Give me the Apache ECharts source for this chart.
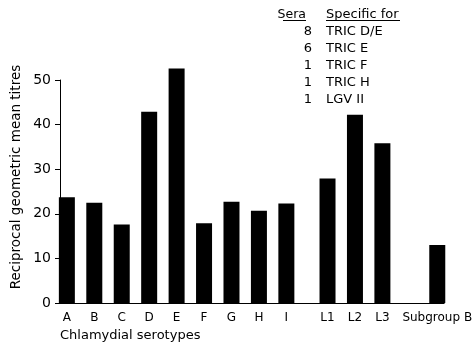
<!DOCTYPE html>
<html>
<head>
<meta charset="utf-8">
<script src="https://cdn.jsdelivr.net/npm/echarts@6/dist/echarts.min.js"></script>
<style>
html,body{margin:0;padding:0;background:#fff;}
#chart{width:475px;height:346px;}
</style>
</head>
<body>
<div id="chart"></div>
<script>
// ---- data ----
const serotypes = ['A','B','C','D','E','F','G','H','I','L1','L2','L3','Subgroup B'];
const titres = [23.7, 22.5, 17.6, 42.9, 52.6, 17.9, 22.7, 20.7, 22.3, 27.9, 42.2, 35.8, 13.0];
// blank half-slots after each serotype on the category axis (figure spacing)
const spacersAfter = [1,1,1,1,1,1,1,1,2,1,1,3,0];
const yTicks = [0, 10, 20, 30, 40, 50];
const seraCounts = ['8','6','1','1','1'];
const specificFor = ['TRIC D/E','TRIC E','TRIC F','TRIC H','LGV II'];
const yTitle = 'Reciprocal geometric mean titres';
const xTitle = 'Chlamydial serotypes';
const legendHeads = ['Sera', 'Specific for'];

// ---- build axis ----
const axisCats = [];
const barData = [];
serotypes.forEach((s, i) => {
  axisCats.push(s);
  barData.push(titres[i]);
  for (let k = 0; k < spacersAfter[i]; k++) {
    axisCats.push('\u200b' + i + '_' + k);
    barData.push('-');
  }
});

const FONT = '"DejaVu Sans"';
const chart = echarts.init(document.getElementById('chart'), null, {renderer: 'canvas'});

const graphics = [];
// axis titles
graphics.push({type:'text', x:60, y:336, style:{text:xTitle, font:'13px ' + FONT, fill:'#000', align:'left', verticalAlign:'middle'}});
graphics.push({type:'text', x:16, y:177, rotation:Math.PI/2, style:{text:yTitle, font:'13.5px ' + FONT, fill:'#000', align:'center', verticalAlign:'middle'}});
// legend headings
graphics.push({type:'text', x:306, y:15, style:{text:legendHeads[0], font:'12.5px ' + FONT, fill:'#000', align:'right', verticalAlign:'middle'}});
graphics.push({type:'text', x:326, y:15, style:{text:legendHeads[1], font:'13px ' + FONT, fill:'#000', align:'left', verticalAlign:'middle'}});
graphics.push({type:'line', shape:{x1:283, y1:20.5, x2:306, y2:20.5}, style:{stroke:'#000', lineWidth:1}});
graphics.push({type:'line', shape:{x1:326, y1:20.5, x2:400, y2:20.5}, style:{stroke:'#000', lineWidth:1}});
seraCounts.forEach((c, i) => {
  const y = 32 + i * 17;
  graphics.push({type:'text', x:312, y:y, style:{text:c, font:'13px ' + FONT, fill:'#000', align:'right', verticalAlign:'middle'}});
  graphics.push({type:'text', x:326, y:y, style:{text:specificFor[i], font:'13px ' + FONT, fill:'#000', align:'left', verticalAlign:'middle'}});
});

chart.setOption({
  animation: false,
  backgroundColor: '#fff',
  grid: {left: 60, right: 23, top: 80, bottom: 43, containLabel: false},
  xAxis: {
    type: 'category',
    data: axisCats,
    axisLine: {show: true, lineStyle: {color: '#000', width: 1}},
    axisTick: {show: false},
    axisLabel: {
      interval: 0, color: '#000', fontFamily: 'DejaVu Sans', fontSize: 12, margin: 9,
      formatter: v => (v.charAt(0) === '\u200b' ? '' : v)
    },
    splitLine: {show: false}
  },
  yAxis: {
    type: 'value',
    min: yTicks[0], max: yTicks[yTicks.length - 1], interval: 10,
    axisLine: {show: true, lineStyle: {color: '#000', width: 1}},
    axisTick: {show: true, length: 5, lineStyle: {color: '#000'}},
    axisLabel: {color: '#000', fontFamily: 'DejaVu Sans', fontSize: 14, margin: 9},
    splitLine: {show: false}
  },
  series: [{
    type: 'bar',
    data: barData,
    barWidth: 16,
    clip: false,
    itemStyle: {color: '#000'}
  }],
  graphic: graphics
});
</script>
</body>
</html>
